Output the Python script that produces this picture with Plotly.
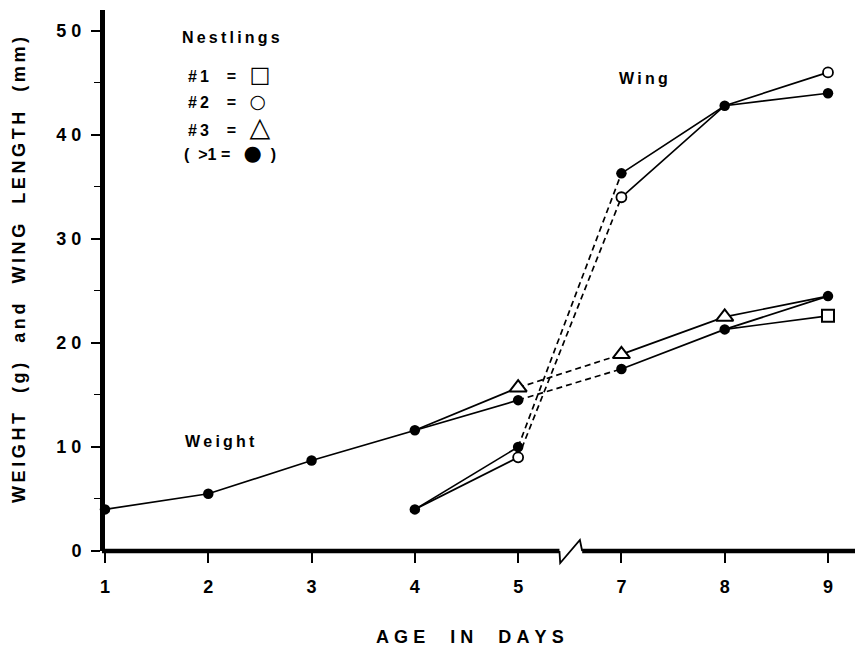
import plotly.graph_objects as go

# ---------------- data ----------------
days = [1, 2, 3, 4, 5, 7, 8, 9]          # day 6 missing (axis break)
day_labels = ["1", "2", "3", "4", "5", "7", "8", "9"]

# weight (g), >1 nestlings (filled circles)
weight_all = [4.0, 5.5, 8.7, 11.6, 14.5, 17.5, 21.3, 24.5]
# weight, nestling #3 (triangles), from shared day-4 point to shared day-9 point
weight_n3_days = [4, 5, 7, 8, 9]
weight_n3 = [11.6, 15.7, 18.9, 22.5, 24.5]
# weight, nestling #1 (square) from shared day-8 point
weight_n1_days = [8, 9]
weight_n1 = [21.3, 22.6]

# wing length (mm)
wing_days = [4, 5, 7, 8, 9]
wing_all = [4.0, 10.0, 36.3, 42.8, 44.0]     # filled circles
wing_n2 = [4.0, 9.0, 34.0, 42.8, 46.0]       # nestling #2 open circles

y_ticks = [0, 10, 20, 30, 40, 50]
y_minor = [5, 15, 25, 35, 45]

# ---------------- helpers ----------------
pos_of = {d: i + 1 for i, d in enumerate(days)}
X_MIN, X_MAX = 1.0, 8.339
Y_MIN, Y_MAX = 0.0, 52.0
FONT = "Liberation Sans"
TS = "\u2009"
HS = "\u200a"
NB = "\u00a0"


def spaced(s, gap=2, sep=TS):
    return (NB * gap).join(sep.join(w) for w in s.split(" "))


def P(ds):
    return [pos_of[d] for d in ds]


def split(ds, vs):
    pre = [(d, v) for d, v in zip(ds, vs) if d <= 5]
    gap = [(d, v) for d, v in zip(ds, vs) if d in (5, 7)]
    post = [(d, v) for d, v in zip(ds, vs) if d >= 7]
    return pre, gap, post


fig = go.Figure()
LW = 1.7


def add_lines(ds, vs):
    pre, gap, post = split(ds, vs)
    for seg, dash in ((pre, "solid"), (gap, "6px,4px"), (post, "solid")):
        if len(seg) >= 2:
            fig.add_trace(go.Scatter(
                x=P([d for d, _ in seg]), y=[v for _, v in seg], mode="lines",
                line=dict(color="black", width=LW, dash=dash), hoverinfo="skip",
                cliponaxis=False))


add_lines(days, weight_all)
add_lines(weight_n3_days, weight_n3)
add_lines(weight_n1_days, weight_n1)
add_lines(wing_days, wing_all)
add_lines(wing_days, wing_n2)

# open markers (points not shared with the filled series)
tri_d = weight_n3_days[1:4]
tri_v = weight_n3[1:4]
fig.add_trace(go.Scatter(x=P(tri_d), y=tri_v, mode="markers", cliponaxis=False,
                         marker=dict(symbol="triangle-up", size=15, color="white",
                                     line=dict(color="black", width=2))))
fig.add_trace(go.Scatter(x=P(weight_n1_days[1:]), y=weight_n1[1:], mode="markers", cliponaxis=False,
                         marker=dict(symbol="square", size=12, color="white",
                                     line=dict(color="black", width=2))))
oc_idx = [1, 2, 4]
fig.add_trace(go.Scatter(x=P([wing_days[i] for i in oc_idx]), y=[wing_n2[i] for i in oc_idx],
                         mode="markers", cliponaxis=False,
                         marker=dict(symbol="circle", size=10, color="white",
                                     line=dict(color="black", width=1.8))))
# filled markers
fig.add_trace(go.Scatter(x=P(days), y=weight_all, mode="markers", cliponaxis=False,
                         marker=dict(symbol="circle", size=10.5, color="black")))
fig.add_trace(go.Scatter(x=P(wing_days), y=wing_all, mode="markers", cliponaxis=False,
                         marker=dict(symbol="circle", size=10.5, color="black")))

# ---------------- layout (page has an 8px body margin) ----------------
OFF = 8
W, H = 863 - OFF, 648 - OFF
L, T = 105 - OFF, 10 - OFF
R = 0
B = H - (551 - OFF)
pw = W - L - R
ph = H - T - B


def px_x(p):
    return (p - OFF - L) / pw


def px_y(p):
    return (H - B - (p - OFF)) / ph


def dx(pos):
    return (pos - X_MIN) / (X_MAX - X_MIN)


brk_a = dx(5.40)
brk_b = dx(5.62)
shapes = [
    dict(type="line", xref="paper", yref="paper", x0=-0.004, x1=brk_a, y0=0, y1=0,
         line=dict(color="black", width=4.5)),
    dict(type="line", xref="paper", yref="paper", x0=brk_b, x1=1, y0=0, y1=0,
         line=dict(color="black", width=4.5)),
    dict(type="path", xref="paper", yref="paper",
         path=f"M {brk_a} 0 L {brk_a + 0.001} {-12/ph} L {brk_b - 0.003} {11/ph} L {brk_b} 0",
         line=dict(color="black", width=1.8)),
]

tickfont = dict(family=FONT, size=18, color="black", weight="bold")

fig.update_layout(
    width=W, height=H, margin=dict(l=L, r=R, t=T, b=B),
    plot_bgcolor="white", paper_bgcolor="white", showlegend=False,
    shapes=shapes,
    xaxis=dict(range=[X_MIN, X_MAX], tickvals=P(days), ticktext=day_labels,
               ticks="outside", ticklen=11, tickwidth=1.6, tickcolor="black",
               showgrid=False, zeroline=False, showline=False, tickfont=tickfont,
               ticklabelstandoff=8),
    yaxis=dict(range=[Y_MIN, Y_MAX], tickvals=y_ticks, ticktext=[NB.join(str(v)) for v in y_ticks],
               ticks="outside", ticklen=9, tickwidth=1.6, tickcolor="black",
               minor=dict(tickvals=y_minor, ticks="outside", ticklen=6, tickwidth=1.4, tickcolor="black"),
               showgrid=False, zeroline=False, showline=True, linewidth=5, linecolor="black",
               tickfont=tickfont, ticklabelstandoff=6),
)

lab = dict(family=FONT, size=16, color="black", weight="bold")
G = "<span style='font-family:DejaVu Sans;font-weight:normal;font-size:%dpx'>%s</span>"
ann = [
    dict(text=spaced("Nestlings"), x=px_x(180), y=px_y(38), xanchor="left"),
    dict(text="#" + TS + "1" + NB * 4 + "=" + NB * 3 + G % (22, "□"), x=px_x(186), y=px_y(74), xanchor="left"),
    dict(text="#" + TS + "2" + NB * 4 + "=" + NB * 3 + G % (19, "○"), x=px_x(186), y=px_y(101), xanchor="left"),
    dict(text="#" + TS + "3" + NB * 4 + "=" + NB * 3 + G % (27, "△"), x=px_x(186), y=px_y(126), xanchor="left"),
    dict(text="(" + NB * 2 + ">1" + NB + "=" + NB * 3 + G % (21, "●") + NB * 2 + ")", x=px_x(182), y=px_y(153), xanchor="left"),
    dict(text=spaced("Wing"), x=px_x(617), y=px_y(78), xanchor="left"),
    dict(text=spaced("Weight"), x=px_x(183), y=px_y(441), xanchor="left"),
    dict(text=spaced("AGE IN DAYS", 5, TS + HS), x=px_x(470), y=px_y(637), xanchor="center",
         font=dict(family=FONT, size=18, color="black", weight="bold")),
    dict(text=spaced("WEIGHT (g) and WING LENGTH (mm)", 4), x=px_x(19), y=px_y(270),
         xanchor="center", textangle=-90,
         font=dict(family=FONT, size=18, color="black", weight="bold")),
]
for a in ann:
    a.setdefault("font", lab)
    a.update(xref="paper", yref="paper", showarrow=False, yanchor="middle")
fig.update_layout(annotations=ann)

fig.write_html("out.html")
